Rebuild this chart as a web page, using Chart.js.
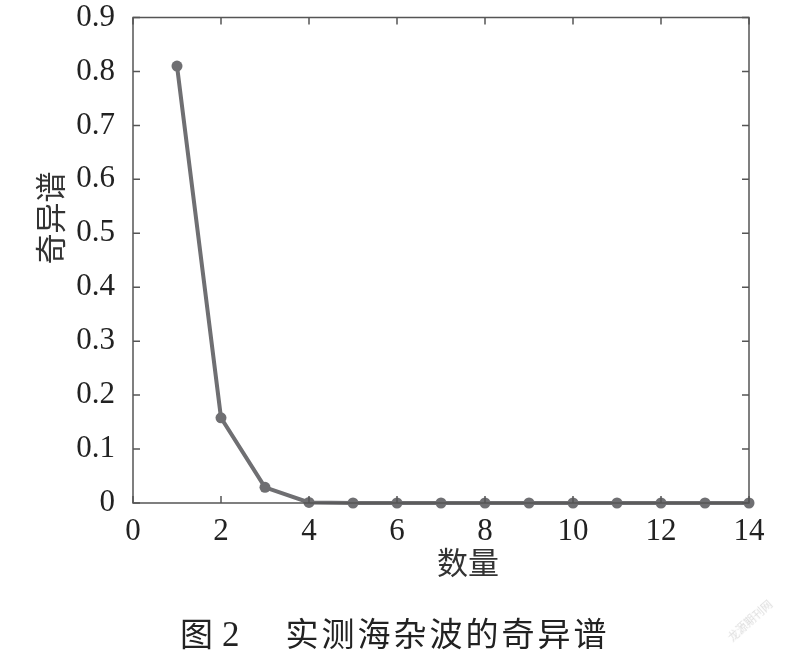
<!DOCTYPE html>
<html>
<head>
<meta charset="utf-8">
<script src="https://cdn.jsdelivr.net/npm/chart.js@4/dist/chart.umd.min.js"></script>
<style>
  html, body { margin: 0; padding: 0; background: #fff; }
  #wrap { position: relative; width: 800px; height: 661px; }
  #caption { position: absolute; top: 608px; left: 180px; white-space: nowrap;
    font-family: "Liberation Serif", "Noto Sans CJK SC", serif; font-size: 33px; color: #222; }
  #wm { position: absolute; left: 722px; top: 612px; transform: rotate(-42deg);
    font-family: "Noto Sans CJK SC", sans-serif; font-size: 11px; color: #ddd; }
</style>
</head>
<body>
<div id="wrap">
  <canvas id="c" width="800" height="661"></canvas>
  <div id="caption"><span>图</span><span style="margin-left:9px; font-size:35px">2</span><span style="margin-left:46px; letter-spacing:3px">实测海杂波的奇异谱</span></div>
  <div id="wm">龙源期刊网</div>
</div>
<script>
const counts = [1, 2, 3, 4, 5, 6, 7, 8, 9, 10, 11, 12, 13, 14];
const singularValues = [0.81, 0.158, 0.029, 0.001, 0, 0, 0, 0, 0, 0, 0, 0, 0, 0];
const xTicks = [0, 2, 4, 6, 8, 10, 12, 14];
const yTicks = [0, 0.1, 0.2, 0.3, 0.4, 0.5, 0.6, 0.7, 0.8, 0.9];
const xTitle = '数量';
const yTitle = '奇异谱';

const frameColor = '#555';
const tickFont = { family: '"Liberation Serif", "Times New Roman", serif', size: 31 };

const framePlugin = {
  id: 'frame',
  afterDraw(chart) {
    const { ctx, chartArea: a, scales: { x, y } } = chart;
    ctx.save();
    ctx.strokeStyle = frameColor;
    ctx.lineWidth = 1.5;
    ctx.strokeRect(a.left, a.top, a.right - a.left, a.bottom - a.top);
    const L = 7;
    ctx.beginPath();
    xTicks.forEach(v => {
      const px = x.getPixelForValue(v);
      ctx.moveTo(px, a.bottom); ctx.lineTo(px, a.bottom - L);
      ctx.moveTo(px, a.top); ctx.lineTo(px, a.top + L);
    });
    yTicks.forEach(v => {
      const py = y.getPixelForValue(v);
      ctx.moveTo(a.left, py); ctx.lineTo(a.left + L, py);
      ctx.moveTo(a.right, py); ctx.lineTo(a.right - L, py);
    });
    ctx.stroke();
    ctx.fillStyle = '#333';
    ctx.font = '31px "Noto Sans CJK SC", sans-serif';
    ctx.textAlign = 'center';
    ctx.textBaseline = 'middle';
    ctx.fillText(xTitle, (a.left + a.right) / 2 + 27, 562);
    ctx.translate(50, 218);
    ctx.rotate(-Math.PI / 2);
    ctx.fillText(yTitle, 0, 0);
    ctx.restore();
  }
};

new Chart(document.getElementById('c'), {
  type: 'line',
  data: {
    datasets: [{
      data: counts.map((c, i) => ({ x: c, y: singularValues[i] })),
      borderColor: '#6f6f72',
      backgroundColor: '#6f6f72',
      borderWidth: 4,
      pointRadius: 5.5,
      pointHoverRadius: 5.5,
      pointBorderWidth: 0,
      tension: 0,
      clip: false
    }]
  },
  options: {
    responsive: false,
    animation: false,
    events: [],
    layout: { padding: { left: 0, top: 0, right: 51, bottom: 0 } },
    plugins: { legend: { display: false }, tooltip: { enabled: false } },
    scales: {
      x: {
        type: 'linear', min: 0, max: 14,
        afterBuildTicks: s => { s.ticks = xTicks.map(v => ({ value: v })); },
        afterFit: s => { s.height = 158; },
        grid: { display: false },
        border: { display: false },
        ticks: { color: '#222', font: tickFont, padding: 2, maxRotation: 0,
                 callback: v => String(v) }
      },
      y: {
        type: 'linear', min: 0, max: 0.9,
        afterBuildTicks: s => { s.ticks = yTicks.map(v => ({ value: v })); },
        afterFit: s => { s.width = 133; s.paddingTop = 17.5; },
        grid: { display: false },
        border: { display: false },
        ticks: { color: '#222', font: tickFont, padding: 10,
                 callback: v => (v === 0 ? '0' : v.toFixed(1)) }
      }
    }
  },
  plugins: [framePlugin]
});
</script>
</body>
</html>
